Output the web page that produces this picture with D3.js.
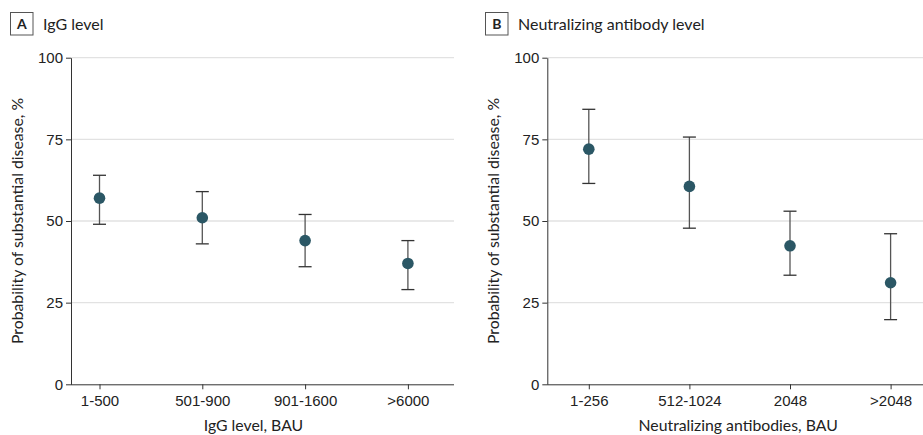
<!DOCTYPE html>
<html>
<head>
<meta charset="utf-8">
<script src="https://cdn.jsdelivr.net/npm/d3@7"></script>
<style>
    body { margin: 0; background: #fff; }
    svg { display: block; font-family: Lato, "Open Sans", sans-serif; }
    .grid line { stroke: #e2e2e2; stroke-width: 1.3; }
    .axis path, .axis line { stroke: #333; }
    .axis text { fill: #222; font-size: 15px; }
</style>
</head>
<body>
<svg id="chart" width="923" height="435"></svg>
<script>
// ---------------------------------------------------------------------------
// Data (probability of substantial disease, %)
// ---------------------------------------------------------------------------
const iggCategories = ['1-500', '501-900', '901-1600', '>6000'];
const iggEstimate = [57, 51, 44, 37];
const iggLower = [49, 43, 36, 29];
const iggUpper = [64, 59, 52, 44];

const nabCategories = ['1-256', '512-1024', '2048', '>2048'];
const nabEstimate = [72, 60.6, 42.4, 31.1];
const nabLower = [61.5, 47.8, 33.4, 19.8];
const nabUpper = [84.2, 75.7, 53, 46.1];

const yTicks = [0, 25, 50, 75, 100];

const svg = d3.select('#chart');

function drawPanel(opts) {
    const { letter, title, xTitle, categories, est, lo, hi, left, right, boxX } = opts;
    const top = 57.7, bottom = 384.3;
    const g = svg.append('g');

    // Panel label
    g.append('rect')
        .attr('x', boxX).attr('y', 12.5)
        .attr('width', 22.5).attr('height', 22.5)
        .attr('fill', '#fff')
        .attr('stroke', '#555')
        .attr('stroke-width', 1);
    g.append('text')
        .attr('x', boxX + 11.25).attr('y', 29)
        .attr('text-anchor', 'middle')
        .attr('font-weight', 'bold')
        .attr('font-size', 14)
        .attr('fill', '#222')
        .text(letter);
    g.append('text')
        .attr('x', boxX + 32.5).attr('y', 29.5)
        .attr('font-size', 16)
        .attr('fill', '#222')
        .text(title);

    const y = d3.scaleLinear().domain([0, 100]).range([bottom, top]);
    const x = d3.scalePoint()
        .domain(categories)
        .range([opts.first, opts.first + 3 * opts.step]);

    // Gridlines
    g.append('g')
        .attr('class', 'grid')
        .selectAll('line')
        .data(yTicks.filter(d => d > 0))
        .join('line')
        .attr('x1', left).attr('x2', right)
        .attr('y1', d => y(d)).attr('y2', d => y(d));

    // Axes
    g.append('g')
        .attr('class', 'axis')
        .attr('transform', `translate(${left},0)`)
        .call(d3.axisLeft(y).tickValues(yTicks).tickSize(5).tickPadding(3).tickSizeOuter(0));
    g.append('g')
        .attr('class', 'axis')
        .attr('transform', `translate(0,${bottom})`)
        .call(d3.axisBottom(x).tickSize(5).tickPadding(6).tickSizeOuter(0))
        .call(a => a.select('.domain').attr('d', `M${left},0.5H${right}`));

    // Axis titles
    g.append('text')
        .attr('transform', `translate(${left - 48},${(top + bottom) / 2}) rotate(-90)`)
        .attr('text-anchor', 'middle')
        .attr('font-size', 15.8)
        .attr('fill', '#222')
        .text('Probability of substantial disease, %');
    g.append('text')
        .attr('x', (left + right) / 2 + (opts.xTitleShift || 0))
        .attr('y', 431)
        .attr('text-anchor', 'middle')
        .attr('font-size', 15.8)
        .attr('fill', '#222')
        .text(xTitle);

    // Error bars + points
    const rows = categories.map((c, i) => ({ c, est: est[i], lo: lo[i], hi: hi[i] }));
    const pt = g.append('g').selectAll('g')
        .data(rows)
        .join('g')
        .attr('transform', d => `translate(${x(d.c)},0)`);
    pt.append('line')
        .attr('y1', d => y(d.lo)).attr('y2', d => y(d.hi))
        .attr('stroke', '#555').attr('stroke-width', 1.3);
    pt.selectAll('.cap')
        .data(d => [d.lo, d.hi])
        .join('line')
        .attr('class', 'cap')
        .attr('x1', -6.5).attr('x2', 6.5)
        .attr('y1', v => y(v)).attr('y2', v => y(v))
        .attr('stroke', '#333').attr('stroke-width', 1.3);
    pt.append('circle')
        .attr('cy', d => y(d.est))
        .attr('r', 5.8)
        .attr('fill', '#2b5765');
}

drawPanel({
    letter: 'A', title: 'IgG level', xTitle: 'IgG level, BAU',
    categories: iggCategories, est: iggEstimate, lo: iggLower, hi: iggUpper,
    left: 71, right: 454, first: 99.5, step: 102.8, boxX: 10.5, xTitleShift: -9
});
drawPanel({
    letter: 'B', title: 'Neutralizing antibody level', xTitle: 'Neutralizing antibodies, BAU',
    categories: nabCategories, est: nabEstimate, lo: nabLower, hi: nabUpper,
    left: 547.3, right: 923, first: 588.8, step: 100.6, boxX: 485.5, xTitleShift: 3
});
</script>
</body>
</html>
